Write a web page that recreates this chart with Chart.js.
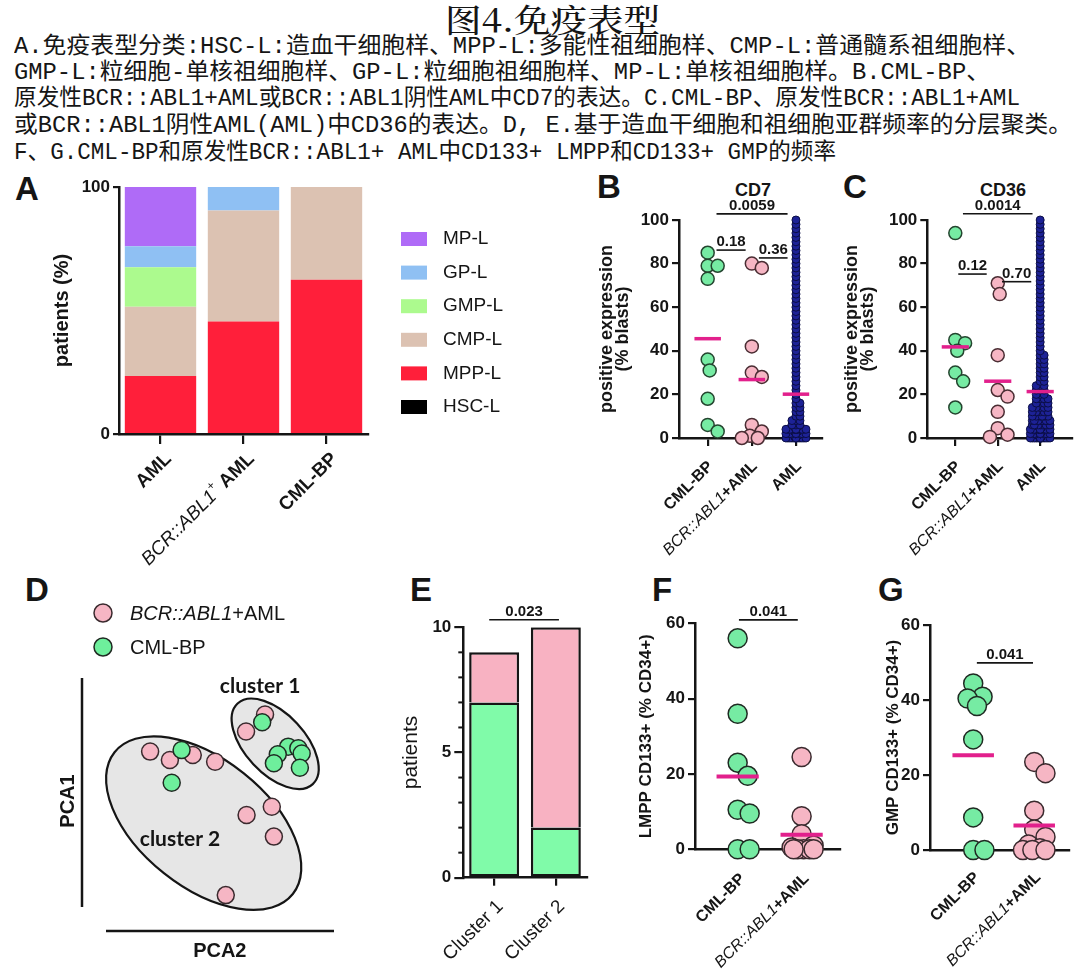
<!DOCTYPE html>
<html lang="zh">
<head>
<meta charset="utf-8">
<title>图4. 免疫表型</title>
<script src="https://cdn.jsdelivr.net/npm/chart.js@4.4.1/dist/chart.umd.min.js"></script>
<style>
html,body{margin:0;padding:0;background:#fff;}
#page{position:relative;width:1080px;height:974px;overflow:hidden;background:#fff;}
canvas{position:absolute;left:0;top:0;}
.t{position:absolute;white-space:nowrap;color:#151515;line-height:1;}
.cap{font-family:'Liberation Mono','Noto Sans CJK SC',monospace;font-size:23px;line-height:26px;left:14px;transform-origin:0 50%;}
.title{font-family:'Noto Serif CJK SC','Noto Sans CJK SC',serif;font-size:32px;font-weight:500;transform-origin:0 50%;}
.pl{font-family:'Liberation Sans',Arial,sans-serif;font-weight:bold;font-size:33px;}
.ct{font-family:'Liberation Sans',Arial,sans-serif;font-weight:bold;font-size:18px;transform:translateX(-50%);}
</style>
</head>
<body>
<div id="page">
<div class="t title fit" data-w="215" style="left:445px;top:2px;">图4.免疫表型</div>
<div class="t cap fit" data-w="1016" style="top:34px;">A.免疫表型分类:HSC-L:造血干细胞样、MPP-L:多能性祖细胞样、CMP-L:普通髓系祖细胞样、</div>
<div class="t cap fit" data-w="976" style="top:60px;">GMP-L:粒细胞-单核祖细胞样、GP-L:粒细胞祖细胞样、MP-L:单核祖细胞样。B.CML-BP、</div>
<div class="t cap fit" data-w="1006" style="top:86px;">原发性BCR::ABL1+AML或BCR::ABL1阴性AML中CD7的表达。C.CML-BP、原发性BCR::ABL1+AML</div>
<div class="t cap fit" data-w="1058" style="top:113px;">或BCR::ABL1阴性AML(AML)中CD36的表达。D, E.基于造血干细胞和祖细胞亚群频率的分层聚类。</div>
<div class="t cap fit" data-w="822" style="top:140px;">F、G.CML-BP和原发性BCR::ABL1+ AML中CD133+ LMPP和CD133+ GMP的频率</div>

<div class="t pl" style="left:15px;top:172px;">A</div>
<div class="t pl" style="left:597px;top:170px;">B</div>
<div class="t pl" style="left:843px;top:170px;">C</div>
<div class="t pl" style="left:25px;top:573px;">D</div>
<div class="t pl" style="left:410px;top:573px;">E</div>
<div class="t pl" style="left:652px;top:573px;">F</div>
<div class="t pl" style="left:878px;top:573px;">G</div>
<div class="t ct" style="left:753px;top:181px;">CD7</div>
<div class="t ct" style="left:1003px;top:181px;">CD36</div>

<canvas id="cA" width="1080" height="974"></canvas>
<canvas id="cB" width="1080" height="974"></canvas>
<canvas id="cC" width="1080" height="974"></canvas>
<canvas id="cD" width="1080" height="974"></canvas>
<canvas id="cE" width="1080" height="974"></canvas>
<canvas id="cF" width="1080" height="974"></canvas>
<canvas id="cG" width="1080" height="974"></canvas>
</div>
<script>
// ================= DATA =================
// Panel A: immunophenotype distribution (% patients)
const catsA = ['AML', 'BCR::ABL1+ AML', 'CML-BP'];
const phenotypeLabels = ['HSC-L', 'MPP-L', 'CMP-L', 'GMP-L', 'GP-L', 'MP-L'];
const hscL = [0, 0, 0];
const mppL = [23.5, 45.5, 62.5];
const cmpL = [28, 45, 37.5];
const gmpL = [16, 0, 0];
const gpL  = [8.5, 9.5, 0];
const mpL  = [24, 0, 0];

// Panels B/C: CD7 and CD36 (% blasts)
const catsBC = ['CML-BP', 'BCR::ABL1+AML', 'AML'];
const cd7CmlBp  = [85, 79, 79, 73, 36, 31, 18, 6, 3];
const cd7BcrAbl = [80, 78, 42, 30, 28, 6, 3, 1, 0, 0];
const cd36CmlBp  = [94, 45, 43.5, 40, 30, 26, 14];
const cd36BcrAbl = [71, 66, 38, 22, 19, 12, 4.5, 1.5, 0.5];
// AML cohort as frequency table (value bin -> number of patients)
const amlBins = [0,2,4,6,8,10,12,14,16,18,20,22,24,26,28,30,32,34,36,38,40,42,44,46,48,50,52,54,56,58,60,62,64,66,68,70,72,74,76,78,80,82,84,86,88,90,92,94,96,98,100];
const cd7AmlCounts  = [40,25,15,3,3,2,2,2,2,1,1,1,1,1,1,1,1,1,1,1,1,1,1,1,1,1,1,1,1,1,1,1,1,1,1,1,1,1,1,1,1,1,1,1,1,1,1,1,1,1,1];
const cd36AmlCounts = [25,20,16,10,10,6,5,5,4,4,3,3,3,2,2,2,2,2,2,2,1,1,1,1,1,1,1,1,1,1,1,1,1,1,1,1,1,1,1,1,1,1,1,1,1,1,1,1,1,1,1];

// Panel D: PCA scores [PCA2, PCA1]
const pcaBcrAbl = [[7.04,8.33],[6.31,7.67],[2.62,6.90],[3.38,6.58],[4.26,6.77],[5.12,6.51],[6.33,4.46],[7.30,4.78],[7.38,3.63],[5.53,1.38]];
const pcaCmlBp  = [[6.93,8.03],[7.93,7.09],[8.32,7.03],[8.45,6.83],[7.53,6.80],[7.38,6.45],[8.38,6.28],[3.83,6.96],[3.45,5.70]];

// Panel E: patients per cluster
const catsE = ['Cluster 1', 'Cluster 2'];
const clusterCmlBp  = [7, 2];
const clusterBcrAbl = [2, 8];

// Panels F/G: CD133+ LMPP / GMP (% CD34+)
const catsFG = ['CML-BP', 'BCR::ABL1+AML'];
const lmppCmlBp  = [56, 36, 23, 19.5, 10.5, 9.5, 0, 0];
const lmppBcrAbl = [24.5, 8.8, 4, 1, 0.5, 0, 0, 0, 0, 0];
const gmpCmlBp   = [44.4, 40.9, 40.4, 38.4, 29.5, 8.7, 0, 0];
const gmpBcrAbl  = [23.5, 20.5, 10.5, 5.5, 3.5, 1.5, 0.5, 0, 0, 0];

// ================= STYLE / HELPERS =================
const INK = '#151515';
const FONT = "'Liberation Sans', Arial, Helvetica, sans-serif";
const MEAN = '#E2208C';
const GREEN = '#76EBA3', GREEN_EDGE = '#24452f';
const PINK = '#F6B6C4', PINK_EDGE = '#4a2d33';
const NAVY = '#1d2296', NAVY_EDGE = '#0b0e45';

document.querySelectorAll('.fit').forEach(el => {
  const w = el.getBoundingClientRect().width;
  el.style.transform = 'scaleX(' + (parseFloat(el.dataset.w) / w) + ')';
});

function pad(L, T, R, B, ys, xs) { return {left: L - ys, top: T, right: 1080 - R, bottom: 974 - B - xs}; }
function mean(a) { return a.reduce((s, v) => s + v, 0) / a.length; }
function expand(bins, counts) { const o = []; bins.forEach((b, i) => { for (let k = 0; k < counts[i]; k++) o.push(b); }); return o; }

function richSegs(label, size, restWeight) {
  restWeight = restWeight || 'bold';
  const m = label.match(/^BCR::ABL1\+( ?)(.*)$/);
  if (!m) return [{t: label, font: `${restWeight} ${size}px ${FONT}`}];
  const it = {t: 'BCR::ABL1', font: `italic ${size}px ${FONT}`};
  if (m[1] === ' ') return [it, {t: '+', font: `${Math.round(size * 0.65)}px ${FONT}`, dy: -size * 0.38}, {t: ' ' + m[2], font: `${restWeight} ${size}px ${FONT}`}];
  return [it, {t: '+' + m[2], font: `${restWeight} ${size}px ${FONT}`}];
}
function drawRich(ctx, x, y, segs, rot, align) {
  ctx.save();
  ctx.translate(x, y); ctx.rotate(rot || 0);
  let total = 0;
  const ws = segs.map(s => { ctx.font = s.font; const w = ctx.measureText(s.t).width; total += w; return w; });
  let cx = align === 'left' ? 0 : (align === 'center' ? -total / 2 : -total);
  ctx.textBaseline = 'middle'; ctx.textAlign = 'left'; ctx.fillStyle = INK;
  segs.forEach((s, i) => { ctx.font = s.font; ctx.fillText(s.t, cx, s.dy || 0); cx += ws[i]; });
  ctx.restore();
}

const richXPlugin = {
  id: 'richX',
  afterDraw(chart, args, o) {
    const xs = chart.scales.x, ctx = chart.ctx, b = chart.chartArea.bottom;
    o.labels.forEach((lab, i) => {
      drawRich(ctx, xs.getPixelForValue(i) + o.dx, b + o.dy, richSegs(lab, o.size, o.weight), -Math.PI / 4, 'right');
    });
  }
};
const sigPlugin = {
  id: 'sig',
  afterDatasetsDraw(chart, args, o) {
    const xs = chart.scales.x, ys = chart.scales.y, ctx = chart.ctx;
    (o.items || []).forEach(s => {
      const x1 = xs.getPixelForValue(s.x1), x2 = xs.getPixelForValue(s.x2), y = ys.getPixelForValue(s.y);
      ctx.save();
      ctx.strokeStyle = INK; ctx.lineWidth = 1.6;
      ctx.beginPath(); ctx.moveTo(x1, y); ctx.lineTo(x2, y); ctx.stroke();
      ctx.fillStyle = INK; ctx.font = `bold ${o.size}px ${FONT}`;
      ctx.textAlign = 'center'; ctx.textBaseline = 'alphabetic';
      ctx.fillText(s.text, (x1 + x2) / 2, y - 4);
      ctx.restore();
    });
  }
};
function swarm(vals, ypx, minDist, step, maxHalf) {
  const order = vals.map((v, i) => i).sort((a, b) => vals[b] - vals[a]);
  const placed = [], off = new Array(vals.length);
  order.forEach(i => {
    const y = ypx(vals[i]);
    let best = 0, bestD = -1;
    for (let k = 0; ; k++) {
      const c = k === 0 ? 0 : (k % 2 === 1 ? 1 : -1) * Math.ceil(k / 2) * step;
      if (Math.abs(c) > maxHalf + 1e-9) break;
      let md = Infinity;
      for (const p of placed) { const dx = p.x - c, dy = p.y - y; const d = Math.sqrt(dx * dx + dy * dy); if (d < md) md = d; }
      if (md >= minDist) { best = c; bestD = Infinity; break; }
      if (md > bestD) { bestD = md; best = c; }
    }
    off[i] = best; placed.push({x: best, y: y});
  });
  return off;
}

function yAxis(o) {
  return {
    type: 'linear', min: o.min, max: o.max,
    ticks: {stepSize: o.step, font: {family: FONT, size: o.tickSize, weight: 'bold'}, color: INK, padding: 3},
    grid: {drawOnChartArea: false, drawTicks: true, tickLength: o.tickLen || 7, color: INK, lineWidth: 2.2},
    border: {display: true, color: INK, width: 2.5},
    title: {display: true, text: o.title, color: INK,
      font: {family: FONT, size: o.titleSize, weight: o.titleWeight || 'bold', lineHeight: o.titleLH || 1.2},
      padding: {top: 0, bottom: 0}},
    afterFit: s => { s.width = o.ys; }
  };
}
const baseOpts = {responsive: false, animation: false, events: [],
  plugins: {legend: {display: false}, tooltip: {enabled: false}, title: {display: false}}};

// ================= PANEL A =================
(function () {
  const L = 119, T = 187, R = 368, B = 434, tsz = 20, lh = 1.2, ys = L - 62 + tsz * lh / 2, xs = 40;
  const series = [hscL, mppL, cmpL, gmpL, gpL, mpL];
  const colors = ['#000000', '#FF1F3A', '#DCC2B2', '#ACFA8E', '#8FC0F3', '#AF6BF7'];
  const legendA = {
    id: 'legendA',
    afterDraw(chart, args, o) {
      const ctx = chart.ctx;
      const ds = chart.data.datasets.slice().reverse();
      ds.forEach((d, i) => {
        const cy = o.y + i * o.gap;
        ctx.fillStyle = d.backgroundColor; ctx.fillRect(o.x, cy - 7, 26, 14);
        ctx.fillStyle = INK; ctx.font = `${o.size}px ${FONT}`; ctx.textBaseline = 'middle'; ctx.textAlign = 'left';
        ctx.fillText(d.label, o.x + 42, cy);
      });
    }
  };
  new Chart(document.getElementById('cA'), {
    type: 'bar',
    data: {labels: catsA, datasets: series.map((s, i) => ({label: phenotypeLabels[i], data: s, backgroundColor: colors[i], borderWidth: 0, barPercentage: 0.86, categoryPercentage: 1}))},
    options: Object.assign({}, baseOpts, {
      layout: {padding: pad(L, T, R, B, ys, xs)},
      scales: {
        x: {stacked: true, ticks: {display: false}, grid: {offset: false, drawOnChartArea: false, tickLength: 10, color: INK, lineWidth: 2.2},
            border: {display: true, color: INK, width: 2.5}, afterFit: s => { s.height = xs; }},
        y: Object.assign(yAxis({min: 0, max: 100, step: 100, tickSize: 17, title: 'patients (%)', titleSize: tsz, ys: ys, tickLen: 6}), {stacked: true})
      },
      plugins: Object.assign({}, baseOpts.plugins, {
        richX: {labels: catsA, size: 19, dx: 8, dy: 22},
        legendA: {x: 401, y: 239, gap: 33.6, size: 19}
      })
    }),
    plugins: [richXPlugin, legendA]
  });
})();

// ================= SCATTER PANELS (B, C, F, G) =================
function scatterPanel(id, o) {
  const ys = o.L - o.titleX + o.titleSize * o.titleLH / 2, xs = 40;
  const datasets = [];
  o.groups.forEach((g, gi) => {
    datasets.push({type: 'scatter', data: [], backgroundColor: g.fill, borderColor: g.edge, borderWidth: g.bw || 1.5,
      pointRadius: g.r, order: 1, clip: false});
  });
  o.groups.forEach((g, gi) => {
    const m = mean(g.vals);
    datasets.push({type: 'line', showLine: true, data: [{x: gi - o.meanW, y: m}, {x: gi + o.meanW, y: m}],
      borderColor: MEAN, borderWidth: o.meanLW, pointRadius: 0, order: 0, clip: false});
  });
  const chart = new Chart(document.getElementById(id), {
    type: 'scatter',
    data: {datasets},
    options: Object.assign({}, baseOpts, {
      layout: {padding: pad(o.L, o.T, o.R, o.B, ys, xs)},
      scales: {
        x: {type: 'linear', min: o.xmin, max: o.xmax,
            afterBuildTicks: s => { s.ticks = o.cats.map((c, i) => ({value: i})); },
            ticks: {display: false}, grid: {drawOnChartArea: false, tickLength: 8, color: INK, lineWidth: 2.2},
            border: {display: true, color: INK, width: 2.5}, afterFit: s => { s.height = xs; }},
        y: yAxis({min: o.ymin, max: o.ymax, step: o.step, tickSize: o.tickSize, title: o.title, titleSize: o.titleSize, titleLH: o.titleLH, ys: ys})
      },
      plugins: Object.assign({}, baseOpts.plugins, {
        richX: {labels: o.cats, size: o.labelSize, dx: o.ldx, dy: o.ldy},
        sig: {items: o.sig, size: o.sigSize}
      })
    }),
    plugins: [richXPlugin, sigPlugin]
  });
  const xsc = chart.scales.x, ysc = chart.scales.y;
  const kx = xsc.getPixelForValue(1) - xsc.getPixelForValue(0);
  o.groups.forEach((g, gi) => {
    const off = swarm(g.vals, v => ysc.getPixelForValue(v), g.minDist, g.step, g.maxHalf);
    chart.data.datasets[gi].data = g.vals.map((v, i) => ({x: gi + off[i] / kx, y: v}));
  });
  chart.update('none');
}

const amlCd7 = expand(amlBins, cd7AmlCounts);
const amlCd36 = expand(amlBins, cd36AmlCounts);

scatterPanel('cB', {
  L: 679, T: 220, R: 822, B: 438, xmin: -0.65, xmax: 2.59, ymin: 0, ymax: 100, step: 20,
  cats: catsBC, title: ['positive expression', '(% blasts)'], titleX: 606.7, titleSize: 18, titleLH: 0.93,
  tickSize: 17, labelSize: 16, ldx: 3, ldy: 26, meanW: 0.3, meanLW: 3.5, sigSize: 15,
  groups: [
    {vals: cd7CmlBp, fill: GREEN, edge: GREEN_EDGE, r: 6.5, minDist: 11, step: 2, maxHalf: 10},
    {vals: cd7BcrAbl, fill: PINK, edge: PINK_EDGE, r: 6.5, minDist: 11, step: 2, maxHalf: 10},
    {vals: amlCd7, fill: NAVY, edge: NAVY_EDGE, r: 4, bw: 1, minDist: 3, step: 2, maxHalf: 10}
  ],
  sig: [{x1: 0.2, x2: 1.81, y: 102.8, text: '0.0059'}, {x1: 0.2, x2: 0.86, y: 86.2, text: '0.18'}, {x1: 1.16, x2: 1.81, y: 82.6, text: '0.36'}]
});
scatterPanel('cC', {
  L: 927.3, T: 220, R: 1075, B: 438, xmin: -0.66, xmax: 2.75, ymin: 0, ymax: 100, step: 20,
  cats: catsBC, title: ['positive expression', '(% blasts)'], titleX: 851.7, titleSize: 18, titleLH: 0.93,
  tickSize: 17, labelSize: 16, ldx: 3, ldy: 26, meanW: 0.32, meanLW: 3.5, sigSize: 15,
  groups: [
    {vals: cd36CmlBp, fill: GREEN, edge: GREEN_EDGE, r: 6.5, minDist: 11, step: 2, maxHalf: 10},
    {vals: cd36BcrAbl, fill: PINK, edge: PINK_EDGE, r: 6.5, minDist: 11, step: 2, maxHalf: 10},
    {vals: amlCd36, fill: NAVY, edge: NAVY_EDGE, r: 4, bw: 1, minDist: 3, step: 2, maxHalf: 10}
  ],
  sig: [{x1: 0.18, x2: 1.82, y: 102.9, text: '0.0014'}, {x1: 0.07, x2: 0.74, y: 75.2, text: '0.12'}, {x1: 1.1, x2: 1.79, y: 71.7, text: '0.70'}]
});
scatterPanel('cF', {
  L: 695, T: 623.3, R: 840, B: 849.3, xmin: -0.667, xmax: 1.6, ymin: 0, ymax: 60, step: 20,
  cats: catsFG, title: 'LMPP CD133+ (% CD34+)', titleX: 646.7, titleSize: 17, titleLH: 1.2,
  tickSize: 17, labelSize: 16, ldx: 5, ldy: 27, meanW: 0.33, meanLW: 4, sigSize: 15,
  groups: [
    {vals: lmppCmlBp, fill: GREEN, edge: '#1f2a22', r: 9.5, minDist: 16, step: 2, maxHalf: 12},
    {vals: lmppBcrAbl, fill: PINK, edge: '#3a2a2e', r: 9.5, minDist: 16, step: 2, maxHalf: 12}
  ],
  sig: [{x1: 0.02, x2: 0.94, y: 60.9, text: '0.041'}]
});
scatterPanel('cG', {
  L: 930, T: 625, R: 1078, B: 850, xmin: -0.708, xmax: 1.57, ymin: 0, ymax: 60, step: 20,
  cats: catsFG, title: 'GMP CD133+ (% CD34+)', titleX: 893.3, titleSize: 17, titleLH: 1.2,
  tickSize: 17, labelSize: 16, ldx: 4, ldy: 25, meanW: 0.34, meanLW: 4, sigSize: 15,
  groups: [
    {vals: gmpCmlBp, fill: GREEN, edge: '#1f2a22', r: 9.5, minDist: 16, step: 2, maxHalf: 12},
    {vals: gmpBcrAbl, fill: PINK, edge: '#3a2a2e', r: 9.5, minDist: 16, step: 2, maxHalf: 12}
  ],
  sig: [{x1: 0.06, x2: 0.98, y: 49.9, text: '0.041'}]
});

// ================= PANEL D =================
(function () {
  const L = 82, T = 671, R = 357.6, B = 931, tsz = 20, ys = L - 68 + tsz * 1.2 / 2, xs = 34;
  const clusters = [
    {name: 'cluster 1', cx: 7.43, cy: 7.2, a: 2.12, b: 1.15, angle: -47, lx: 6.85, ly: 9.42},
    {name: 'cluster 2', cx: 4.68, cy: 4.15, a: 4.38, b: 2.46, angle: -38.5, lx: 3.77, ly: 3.54}
  ];
  const dPlugin = {
    id: 'dDeco',
    beforeDatasetsDraw(chart) {
      const ctx = chart.ctx, x = chart.scales.x, y = chart.scales.y;
      const kx = x.getPixelForValue(1) - x.getPixelForValue(0), ky = y.getPixelForValue(0) - y.getPixelForValue(1);
      clusters.forEach(c => {
        ctx.save();
        ctx.beginPath();
        ctx.ellipse(x.getPixelForValue(c.cx), y.getPixelForValue(c.cy), c.a * kx, c.b * ky, -c.angle * Math.PI / 180, 0, Math.PI * 2);
        ctx.fillStyle = '#E6E6E6'; ctx.fill();
        ctx.lineWidth = 2.2; ctx.strokeStyle = INK; ctx.stroke();
        ctx.restore();
      });
    },
    afterDraw(chart) {
      const ctx = chart.ctx, x = chart.scales.x, y = chart.scales.y, a = chart.chartArea;
      ctx.save();
      ctx.strokeStyle = INK; ctx.lineWidth = 2.5;
      ctx.beginPath(); ctx.moveTo(a.left, a.top + 7); ctx.lineTo(a.left, a.bottom - 24); ctx.stroke();
      ctx.beginPath(); ctx.moveTo(a.left + 24, a.bottom); ctx.lineTo(a.left + 252, a.bottom); ctx.stroke();
      ctx.fillStyle = INK; ctx.font = "bold 21px Lato, 'Open Sans', sans-serif"; ctx.textAlign = 'center'; ctx.textBaseline = 'middle';
      clusters.forEach(c => ctx.fillText(c.name, x.getPixelForValue(c.lx), y.getPixelForValue(c.ly)));
      // legend
      const items = [{label: 'BCR::ABL1+AML', ds: 0}, {label: 'CML-BP', ds: 1}];
      items.forEach((it, i) => {
        const d = chart.data.datasets[it.ds], cy = 613 + i * 34;
        ctx.beginPath(); ctx.arc(103, cy, 9, 0, Math.PI * 2);
        ctx.fillStyle = d.backgroundColor; ctx.fill(); ctx.lineWidth = 1.5; ctx.strokeStyle = d.borderColor; ctx.stroke();
        drawRich(ctx, 130, cy + 1, richSegs(it.label, 20, 'normal'), 0, 'left');
      });
      ctx.restore();
    }
  };
  new Chart(document.getElementById('cD'), {
    type: 'scatter',
    data: {datasets: [
      {label: 'BCR::ABL1+AML', data: pcaBcrAbl.map(p => ({x: p[0], y: p[1]})), backgroundColor: PINK, borderColor: '#3a2a2e', borderWidth: 1.5, pointRadius: 8.5, order: 2, clip: false},
      {label: 'CML-BP', data: pcaCmlBp.map(p => ({x: p[0], y: p[1]})), backgroundColor: '#6EEF9C', borderColor: '#1f2a22', borderWidth: 1.5, pointRadius: 8.5, order: 1, clip: false}
    ]},
    options: Object.assign({}, baseOpts, {
      layout: {padding: pad(L, T, R, B, ys, xs)},
      scales: {
        x: {type: 'linear', min: 0, max: 10.6, ticks: {display: false}, grid: {display: false}, border: {display: false},
            title: {display: true, text: 'PCA2', color: INK, font: {family: FONT, size: tsz, weight: 'bold', lineHeight: 1.2}, padding: {top: 0, bottom: 2}},
            afterFit: s => { s.height = xs; }},
        y: {type: 'linear', min: 0, max: 10, ticks: {display: false}, grid: {display: false}, border: {display: false},
            title: {display: true, text: 'PCA1', color: INK, font: {family: FONT, size: tsz, weight: 'bold', lineHeight: 1.2}, padding: {top: 0, bottom: 0}},
            afterFit: s => { s.width = ys; }}
      }
    }),
    plugins: [dPlugin]
  });
})();

// ================= PANEL E =================
(function () {
  const L = 463.3, T = 627.3, R = 586.7, B = 877.7, tsz = 21, ys = L - 411.7 + tsz * 1.2 / 2, xs = 40;
  const minorTicks = {
    id: 'minorTicks',
    afterDraw(chart, args, o) {
      const ctx = chart.ctx, y = chart.scales.y, l = chart.chartArea.left;
      ctx.save(); ctx.strokeStyle = INK; ctx.lineWidth = 2;
      o.values.forEach(v => { const py = y.getPixelForValue(v); ctx.beginPath(); ctx.moveTo(l - 5, py); ctx.lineTo(l, py); ctx.stroke(); });
      ctx.restore();
    }
  };
  new Chart(document.getElementById('cE'), {
    type: 'bar',
    data: {labels: catsE, datasets: [
      {label: 'CML-BP', data: clusterCmlBp, backgroundColor: '#80FBA9', borderColor: INK, borderWidth: 2.5, borderSkipped: false, barPercentage: 0.81, categoryPercentage: 1},
      {label: 'BCR::ABL1+AML', data: clusterBcrAbl, backgroundColor: '#F8B2C2', borderColor: INK, borderWidth: 2.5, borderSkipped: 'bottom', barPercentage: 0.81, categoryPercentage: 1}
    ]},
    options: Object.assign({}, baseOpts, {
      layout: {padding: pad(L, T, R, B, ys, xs)},
      scales: {
        x: {stacked: true, ticks: {display: false}, grid: {offset: false, drawOnChartArea: false, tickLength: 8, color: INK, lineWidth: 2.2},
            border: {display: true, color: INK, width: 2.5}, afterFit: s => { s.height = xs; }},
        y: Object.assign(yAxis({min: 0, max: 10, step: 5, tickSize: 17, title: 'patients', titleSize: tsz, titleWeight: 'normal', ys: ys, tickLen: 9}), {stacked: true})
      },
      plugins: Object.assign({}, baseOpts.plugins, {
        richX: {labels: catsE, size: 19, weight: 'normal', dx: 6, dy: 26},
        sig: {items: [{x1: -0.08, x2: 1.05, y: 10.3, text: '0.023'}], size: 15},
        minorTicks: {values: [1, 2, 3, 4, 6, 7, 8, 9]}
      })
    }),
    plugins: [richXPlugin, sigPlugin, minorTicks]
  });
})();
</script>
</body>
</html>
